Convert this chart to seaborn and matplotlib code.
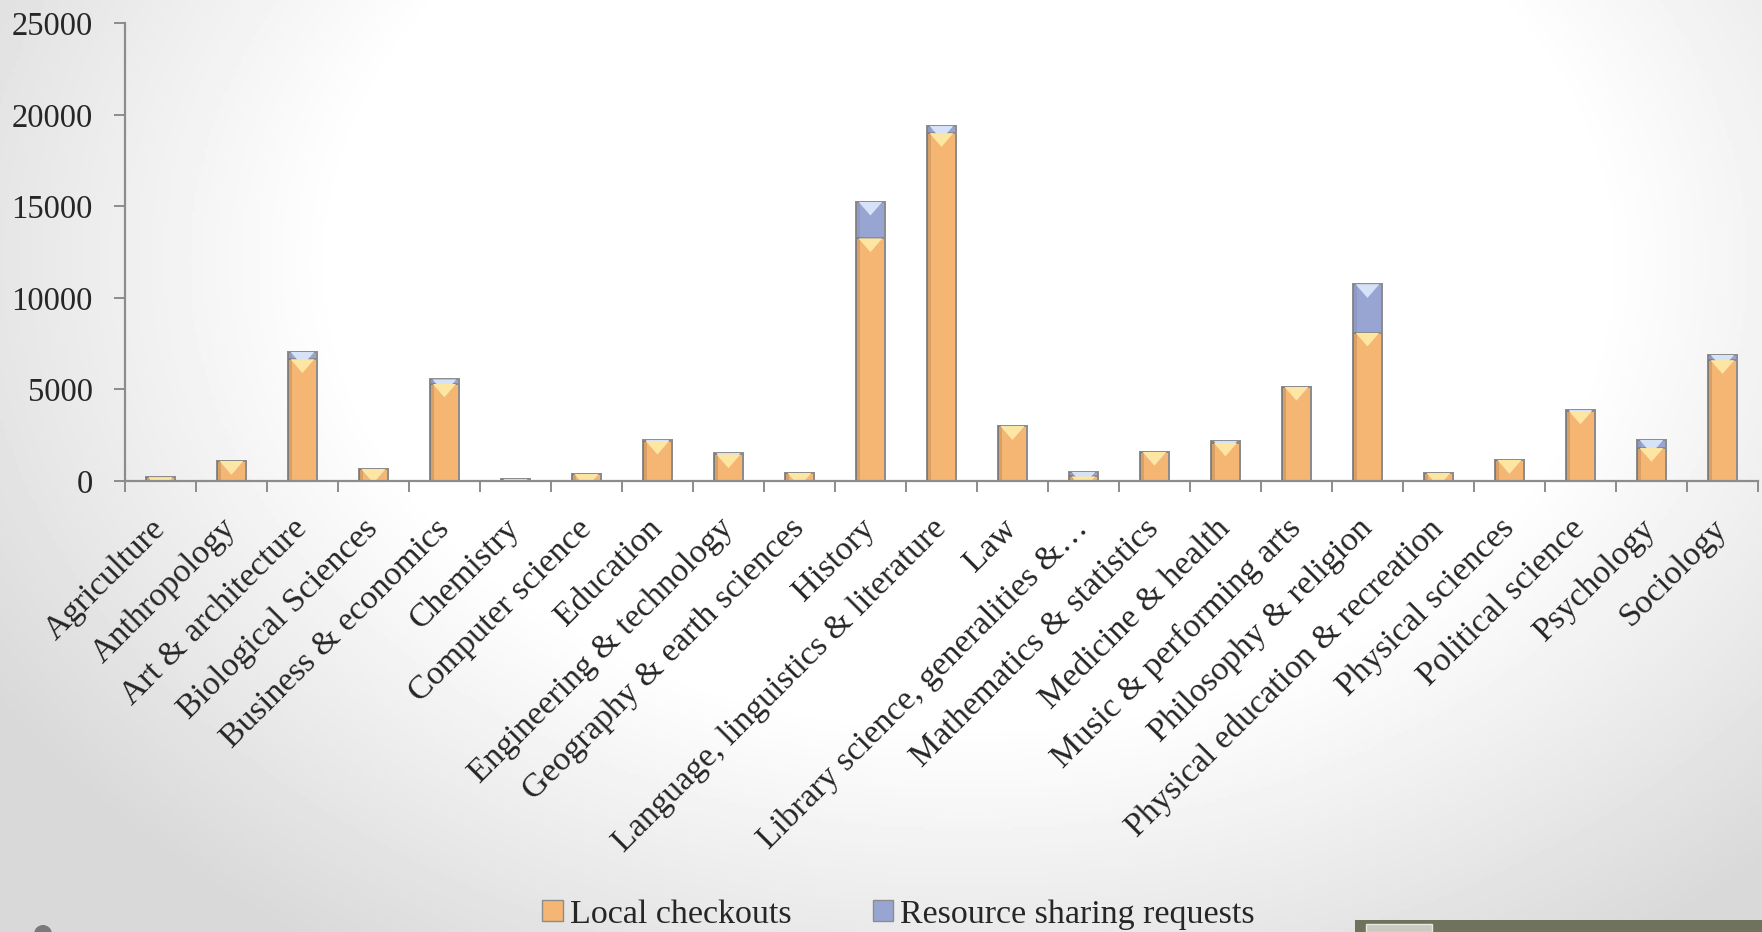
import numpy as np
import pandas as pd
import seaborn as sns
import matplotlib.pyplot as plt
from matplotlib.patches import Patch, Polygon, Rectangle, Circle
from matplotlib.transforms import IdentityTransform

categories = ['Agriculture', 'Anthropology', 'Art & architecture', 'Biological Sciences',
              'Business & economics', 'Chemistry', 'Computer science', 'Education',
              'Engineering & technology', 'Geography & earth sciences', 'History',
              'Language, linguistics & literature', 'Law',
              'Library science, generalities &\u2026', 'Mathematics & statistics',
              'Medicine & health', 'Music & performing arts', 'Philosophy & religion',
              'Physical education & recreation', 'Physical sciences', 'Political science',
              'Psychology', 'Sociology']
local = [200, 1100, 6650, 650, 5320, 100, 380, 2200, 1450, 450, 13250, 19000, 3000,
         250, 1600, 2100, 5150, 8100, 450, 1150, 3850, 1800, 6600]
sharing = [0, 0, 400, 0, 230, 0, 0, 50, 80, 0, 2000, 400, 0,
           250, 0, 100, 0, 2650, 0, 0, 50, 450, 300]
yticks = [0, 5000, 10000, 15000, 20000, 25000]

df = pd.DataFrame({'subject': categories, 'local': local, 'sharing': sharing})
df['total'] = df['local'] + df['sharing']

sns.set_style('white')
plt.rcParams['font.family'] = ['Liberation Serif', 'DejaVu Serif']

orange = '#F6B673'
blue = '#98A5D3'
edge = '#8C8C8C'

fig = plt.figure(figsize=(17.62, 9.32), dpi=100)

# slide background: soft radial gradient, white in the upper middle
bg = fig.add_axes([0, 0, 1, 1], zorder=-10)
yy, xx = np.mgrid[0:1:300j, 0:1:560j]
r = np.sqrt(((xx - 0.55) / 0.58) ** 2 + ((yy - 0.28) / 0.8) ** 2)
shade = 1 - 0.15 * np.clip((r - 0.62) / 0.5, 0, 1)
bg.imshow(shade, cmap='gray', vmin=0, vmax=1, aspect='auto', extent=[0, 1, 0, 1], origin='upper')
bg.axis('off')

ax = fig.add_axes([0.0709, 0.4839, 0.9268, 0.4911])
ax.patch.set_alpha(0)

sns.barplot(data=df, x='subject', y='total', color=blue, width=0.4, saturation=1,
            edgecolor=edge, linewidth=1.4, ax=ax)
sns.barplot(data=df, x='subject', y='local', color=orange, width=0.4, saturation=1,
            edgecolor=edge, linewidth=1.4, ax=ax)

# bevel highlight triangles on top of each segment
for p in list(ax.patches):
    x0, w, h = p.get_x(), p.get_width(), p.get_height()
    if h <= 0:
        continue
    light = '#D6E2F8' if p.get_facecolor()[2] > 0.7 else '#FDE6A2'
    th = 750
    tri = Polygon([(x0 + w * 0.08, h), (x0 + w * 0.92, h), (x0 + w / 2, h - th)],
                  closed=True, facecolor=light, edgecolor='none', zorder=p.get_zorder() + 0.1)
    ax.add_patch(tri)
    tri.set_clip_path(p)
    shade_l = Rectangle((x0, 0), w * 0.12, h, facecolor='#000000', alpha=0.06,
                        edgecolor='none', zorder=p.get_zorder() + 0.05)
    ax.add_patch(shade_l)
    shade_l.set_clip_path(p)

ax.set_xlim(-0.5, len(categories) - 0.5)
ax.set_ylim(0, 25000)
ax.set_yticks(yticks)
ax.set_yticklabels([str(v) for v in yticks])
ax.set_xlabel('')
ax.set_ylabel('')

sns.despine(ax=ax, top=True, right=True)
for s in ['left', 'bottom']:
    ax.spines[s].set_color(edge)
    ax.spines[s].set_linewidth(1.6)

ax.tick_params(axis='y', direction='out', length=8, width=1.4, color=edge,
               labelsize=23.5, pad=15, left=True)
ax.set_xticks(np.arange(-0.5, len(categories), 1), minor=True)
ax.tick_params(axis='x', which='minor', direction='out', length=8, width=1.4,
               color=edge, bottom=True)
ax.tick_params(axis='x', which='major', length=0, pad=31, labelsize=24.5)
for lab in ax.get_xticklabels():
    lab.set_rotation(45)
    lab.set_ha('right')
    lab.set_va('center')
    lab.set_rotation_mode('anchor')

handles = [Patch(facecolor=orange, edgecolor=edge, label='Local checkouts'),
           Patch(facecolor=blue, edgecolor=edge, label='Resource sharing requests')]
fig.legend(handles=handles, loc='center', bbox_to_anchor=(0.51, 0.019), ncol=2,
           frameon=False, fontsize=24.5, handlelength=0.6, handleheight=0.6,
           handletextpad=0.2, columnspacing=2.4)

# slide footer decorations
fig.add_artist(Rectangle((1355 / 1762, 0), 1 - 1355 / 1762, 12 / 932,
                         transform=fig.transFigure, facecolor='#6F735E', edgecolor='none'))
fig.add_artist(Rectangle((1366 / 1762, 0), 66 / 1762, 8 / 932,
                         transform=fig.transFigure, facecolor='#C9CBC0', edgecolor='#E8E8E2', lw=1))
fig.add_artist(Circle((43, -2), 9, transform=IdentityTransform(), facecolor='#7A7A7A',
                      edgecolor='none'))

fig.savefig('out.png', dpi=100)
